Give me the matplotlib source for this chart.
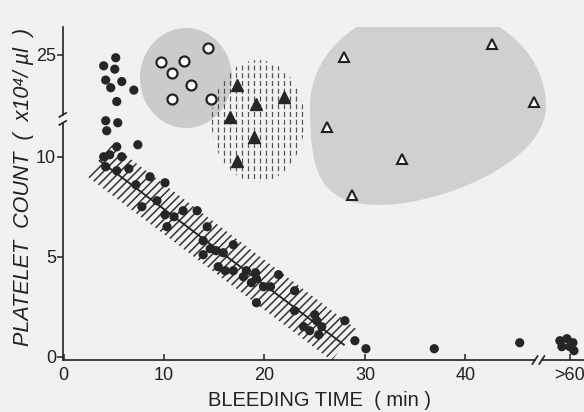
import numpy as np
import matplotlib.pyplot as plt
from matplotlib.patches import Polygon, Ellipse

plt.rcParams['font.family'] = ['Liberation Sans', 'DejaVu Sans']
plt.rcParams['hatch.linewidth'] = 1.1

# filled dots (main group), x = bleeding time (min), y = platelet count (x10^4/ul)
dot_x = [5.2, 4.0, 5.1, 4.2, 4.7, 5.8, 7.0, 5.3,
         4.2, 5.4, 4.3, 7.4,
         4.0, 5.3, 4.6, 5.8, 4.2, 5.3, 6.5, 8.6, 10.1, 7.2, 9.3, 7.8,
         10.1, 11.0, 11.9, 13.3, 10.3, 14.3, 13.9, 14.6, 13.9, 15.2, 15.9, 16.9,
         15.4, 16.1, 16.9, 17.9, 18.2, 19.1, 19.2, 18.7, 19.9, 20.6, 21.4, 19.2,
         23.0, 23.0, 23.9, 25.0, 25.2, 25.7, 25.4, 24.5, 28.0, 29.0, 30.1,
         36.9, 45.4,
         49.4, 50.1, 50.7, 49.6, 50.4, 50.8]
dot_y = [24.4, 22.7, 22.0, 19.7, 18.1, 19.4, 17.6, 15.2,
         11.8, 11.7, 11.3, 10.6,
         10.0, 10.5, 10.1, 10.0, 9.5, 9.3, 9.4, 9.0, 8.7, 8.6, 7.8, 7.5,
         7.1, 7.0, 7.3, 7.3, 6.5, 6.5, 5.8, 5.4, 5.1, 5.3, 5.2, 5.6,
         4.5, 4.3, 4.3, 4.0, 4.3, 4.2, 3.9, 3.7, 3.5, 3.5, 4.1, 2.7,
         3.3, 2.3, 1.5, 2.1, 1.8, 1.5, 1.1, 1.3, 1.8, 0.8, 0.4,
         0.4, 0.7,
         0.8, 0.9, 0.7, 0.5, 0.5, 0.3]

# open circles
circ_x = [9.7, 12.0, 14.4, 10.8, 12.7, 10.8, 14.7]
circ_y = [23.6, 23.8, 26.4, 21.1, 18.6, 15.7, 15.7]

# filled triangles
ftri_x = [17.3, 21.9, 19.2, 16.6, 19.0, 17.3]
ftri_y = [18.7, 16.2, 14.7, 12.0, 11.0, 9.8]

# open triangles
otri_x = [27.9, 42.6, 46.8, 26.2, 33.7, 28.7]
otri_y = [24.6, 27.3, 15.1, 11.5, 9.9, 8.1]

# regression line ends
fit_x = [3.6, 27.9]
fit_y = [9.8, 0.6]

xtick_pos = [0, 10, 20, 30, 40, 50.4]
xtick_lab = ['0', '10', '20', '30', '40', '>60']
ytick_pos = [0, 5, 10, 25]
ytick_lab = ['0', '5', '10', '25']

ink = '#222222'


def fwd(v):
    v = np.asarray(v, dtype=float)
    return np.where(v <= 12, v, 12 + (v - 12) * 0.238)


def inv(p):
    p = np.asarray(p, dtype=float)
    return np.where(p <= 12, p, 12 + (p - 12) / 0.238)


W, H = 584, 412
fig = plt.figure(figsize=(W/100, H/100), dpi=100, facecolor='#f1f1ef')
ax = fig.add_axes([63/W, 52/H, 521/W, 333/H])
ax.set_facecolor('none')
ax.set_yscale('function', functions=(fwd, inv))
ax.set_xlim(-0.05, 51.8)
ax.set_ylim(-0.165, 30.86)


def pa(px, py):
    # pixel position -> axes fraction
    return (np.asarray(px) - 63) / 521, (360 - np.asarray(py)) / 333


# stippled grey areas
cx, cy = pa(186, 78)
ax.add_patch(Ellipse((cx, cy), 92/521, 100/333, transform=ax.transAxes,
                     facecolor='#cbcbcb', edgecolor='none', zorder=1))
t = np.linspace(0, 2*np.pi, 200)
ex = 428 + 118*np.cos(t)
ey = 106 + 99*np.sin(t)
ex = ex - 0.5*np.clip(ey - 106, 0, None)*(ey - 106)/99
gx, gy = pa(ex, ey)
ax.add_patch(Polygon(np.column_stack([gx, gy]), closed=True, transform=ax.transAxes,
                     facecolor='#d0d0d0', edgecolor='none', zorder=1))

# vertical dashed area
dx, dy = pa(258, 121)
clip = Ellipse((dx, dy), 93/521, 122/333, transform=ax.transAxes,
               facecolor='none', edgecolor='none')
ax.add_patch(clip)
vx, _ = pa(np.arange(212, 306, 6), 0)
vl = ax.vlines(vx, 0.5, 1.0, transform=ax.transAxes, colors='#555555',
               linewidth=0.9, linestyles=(0, (4, 2.2)), zorder=1.5)
vl.set_clip_path(clip)

# hatched confidence band around the regression line
p = ax.transData.transform(np.column_stack([fit_x, fit_y]))
d = (p[1] - p[0]) / np.hypot(*(p[1] - p[0]))
n = np.array([-d[1], d[0]])
hw = 20
corners = np.array([p[0] + n*hw, p[1] + n*hw, p[1] - n*hw, p[0] - n*hw])
band = ax.transData.inverted().transform(corners)
ax.add_patch(Polygon(band, closed=True, facecolor='none', edgecolor='#333333',
                     linewidth=0, hatch='////', zorder=2))
ax.plot(fit_x, fit_y, color=ink, lw=1.3, zorder=3)

ax.scatter(dot_x, dot_y, s=44, color='#262626', edgecolor='none', zorder=4)
ax.plot(circ_x, circ_y, 'o', ms=7.2, mfc='white', mec=ink, mew=1.6, zorder=4)
ax.plot(ftri_x, ftri_y, '^', ms=8.5, mfc='#262626', mec='#262626', zorder=4)
ax.plot(otri_x, otri_y, '^', ms=7.6, mfc='white', mec=ink, mew=1.5, zorder=4)

# axes with breaks
for s in ax.spines.values():
    s.set_visible(False)
kw = dict(transform=ax.transAxes, color=ink, lw=1.2, clip_on=False, zorder=5)
ax.plot([0, 0], [0, 0.712], **kw)
ax.plot([0, 0], [0.736, 1], **kw)
for yb in (0.712, 0.736):
    ax.plot([-0.007, 0.006], [yb - 0.006, yb + 0.006], **kw)
ax.plot([0, 0.906], [0, 0], **kw)
ax.plot([0.919, 1], [0, 0], **kw)
for xb in (0.906, 0.919):
    ax.plot([xb - 0.005, xb + 0.005], [-0.012, 0.012], **kw)

ax.set_xticks(xtick_pos, xtick_lab)
ax.set_yticks(ytick_pos, ytick_lab)
ax.minorticks_off()
ax.tick_params(axis='x', direction='in', length=4.5, width=1.1, color=ink,
               labelsize=13, labelcolor=ink, pad=5)
ax.tick_params(axis='y', direction='out', length=4, width=1.1, color=ink,
               labelsize=13, labelcolor=ink, pad=1)

fig.text(320/W, 1 - 401/H, 'BLEEDING TIME  ( min )', ha='center', va='center',
         fontsize=14.5, color=ink)
fig.text(24/W, 1 - 187/H, 'PLATELET  COUNT  (  x10\u2074/ \u00b5l  )', ha='center',
         va='center', rotation=90, fontsize=15.5, style='italic', color=ink)

fig.savefig('out.png', dpi=100, facecolor=fig.get_facecolor())
